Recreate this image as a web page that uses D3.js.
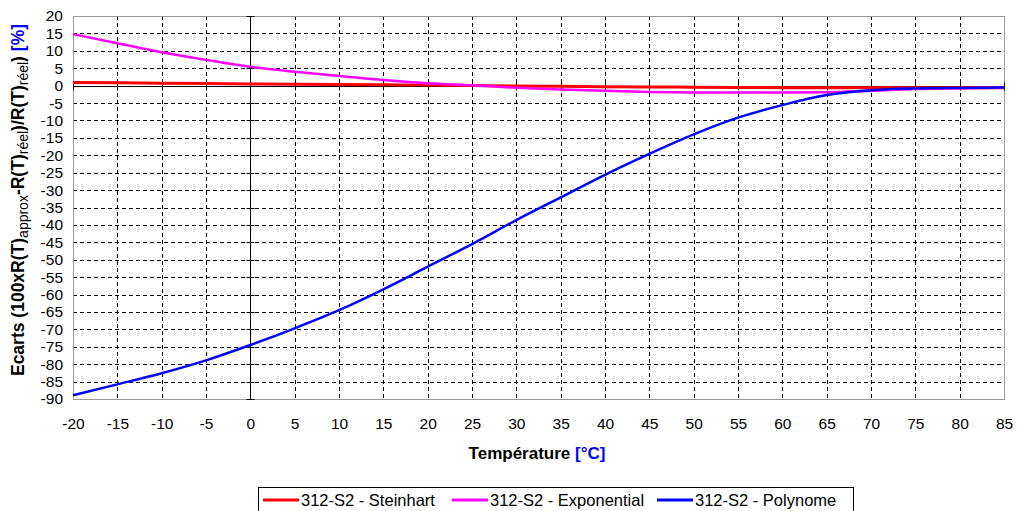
<!DOCTYPE html>
<html>
<head>
<meta charset="utf-8">
<script src="https://cdn.jsdelivr.net/npm/d3@7"></script>
<style>
  html, body { margin: 0; padding: 0; background: #fff; }
  svg { display: block; font-family: "Liberation Sans", Arial, sans-serif; }
</style>
</head>
<body>
<svg id="chart" width="1017" height="511"></svg>
<script>
// Temperatures (°C) at which the deviations are evaluated
const temperatures = [-20, -15, -10, -5, 0, 5, 10, 15, 20, 25, 30, 35, 40, 45, 50, 55, 60, 65, 70, 75, 80, 85];

// Relative deviation (%) of each approximation model
const steinhart   = [0.9, 0.8, 0.7, 0.6, 0.5, 0.4, 0.3, 0.22, 0.15, 0.05, -0.1, -0.2, -0.3, -0.38, -0.45, -0.52, -0.58, -0.6, -0.6, -0.6, -0.6, -0.6];
const exponential = [14.8, 12.2, 9.6, 7.4, 5.4, 4.0, 2.8, 1.6, 0.7, 0.1, -0.6, -1.1, -1.5, -1.8, -1.95, -2.0, -2.0, -1.9, -1.45, -1.0, -0.75, -0.6];
const polynome    = [-88.9, -85.8, -82.6, -78.9, -74.5, -69.7, -64.5, -58.5, -52.0, -45.5, -38.6, -32.1, -25.6, -19.6, -14.0, -9.2, -5.6, -2.7, -1.3, -0.8, -0.65, -0.55];

const seriesNames  = ["312-S2 - Steinhart", "312-S2 - Exponential", "312-S2 - Polynome"];
const seriesColors = ["#ff0000", "#ff00ff", "#0000ff"];

const xTicks = d3.range(-20, 86, 5);
const yTicks = d3.range(-90, 21, 5);

const svg = d3.select("#chart");
const plot = { left: 73, right: 1004, top: 16, bottom: 399 };

const x = d3.scaleLinear().domain([-20, 85]).range([plot.left, plot.right]);
const y = d3.scaleLinear().domain([-90, 20]).range([plot.bottom, plot.top]);
const px = v => Math.round(v) + 0.5;

// Dashed grid
const grid = svg.append("g");
grid.selectAll("line.gx").data(xTicks.filter(t => t !== -20 && t !== 85 && t !== 0)).join("line")
  .attr("x1", d => px(x(d))).attr("x2", d => px(x(d)))
  .attr("y1", plot.top).attr("y2", plot.bottom)
  .attr("stroke", "#000").attr("stroke-width", 1).attr("stroke-dasharray", "4,3");
grid.selectAll("line.gy").data(yTicks.filter(t => t !== -90 && t !== 20 && t !== 0)).join("line")
  .attr("y1", d => px(y(d))).attr("y2", d => px(y(d)))
  .attr("x1", plot.left).attr("x2", plot.right)
  .attr("stroke", "#000").attr("stroke-width", 1).attr("stroke-dasharray", "4,3");

// Plot frame
svg.append("rect")
  .attr("x", plot.left + 0.5).attr("y", plot.top + 0.5)
  .attr("width", plot.right - plot.left).attr("height", plot.bottom - plot.top)
  .attr("fill", "none").attr("stroke", "#999");

// Axes crossing at zero, with short tick marks across them
const zx = px(x(0)), zy = px(y(0));
const zeroAxes = svg.append("g").attr("stroke", "#000").attr("stroke-width", 1);
zeroAxes.append("line").attr("x1", zx).attr("x2", zx).attr("y1", plot.top).attr("y2", plot.bottom);
zeroAxes.append("line").attr("x1", plot.left).attr("x2", plot.right).attr("y1", zy).attr("y2", zy);
zeroAxes.selectAll("line.ty").data(yTicks).join("line")
  .attr("x1", zx - 4).attr("x2", zx + 4).attr("y1", d => px(y(d))).attr("y2", d => px(y(d)));
zeroAxes.selectAll("line.tx").data(xTicks).join("line")
  .attr("y1", zy - 4).attr("y2", zy + 4).attr("x1", d => px(x(d))).attr("x2", d => px(x(d)));

// Tick labels
const fmt = d => String(d);
const yAxis = d3.axisLeft(y).tickValues(yTicks).tickSize(0).tickPadding(10).tickFormat(fmt);
svg.append("g").attr("transform", `translate(${plot.left},0)`).call(yAxis)
  .call(g => g.select(".domain").remove())
  .call(g => g.selectAll("text").attr("font-size", 15.5).attr("fill", "#000").attr("font-family", "Liberation Sans, Arial, sans-serif"));
const xAxis = d3.axisBottom(x).tickValues(xTicks).tickSize(0).tickPadding(19).tickFormat(fmt);
svg.append("g").attr("transform", `translate(0,${plot.bottom})`).call(xAxis)
  .call(g => g.select(".domain").remove())
  .call(g => g.selectAll("text").attr("font-size", 15.5).attr("fill", "#000").attr("font-family", "Liberation Sans, Arial, sans-serif"));

// Curves
const allSeries = [steinhart, exponential, polynome];
const line = d3.line().x((d, i) => x(temperatures[i])).y(d => y(d)).curve(d3.curveMonotoneX);
svg.append("g").selectAll("path").data(allSeries).join("path")
  .attr("d", d => line(d))
  .attr("fill", "none")
  .attr("stroke", (d, i) => seriesColors[i])
  .attr("stroke-width", (d, i) => i === 0 ? 3 : 2.5)
  .attr("stroke-linejoin", "round");

// Axis titles
const xt = svg.append("text").attr("x", 537).attr("y", 459).attr("text-anchor", "middle")
  .attr("font-size", 17).attr("font-weight", "bold");
xt.append("tspan").text("Température ");
xt.append("tspan").attr("fill", "#0000ff").text("[°C]");

const yt = svg.append("text").attr("transform", "translate(24,200) rotate(-90)")
  .attr("text-anchor", "middle").attr("font-size", 17.5).attr("font-weight", "bold");
yt.append("tspan").text("Ecarts (100xR(T)");
yt.append("tspan").attr("font-size", 14).attr("font-weight", "normal").attr("dy", 4).text("approx");
yt.append("tspan").attr("dy", -4).text("-R(T)");
yt.append("tspan").attr("font-size", 14).attr("font-weight", "normal").attr("dy", 4).text("réel");
yt.append("tspan").attr("dy", -4).text(")/R(T)");
yt.append("tspan").attr("font-size", 14).attr("font-weight", "normal").attr("dy", 4).text("réel");
yt.append("tspan").attr("dy", -4).text(")");
yt.append("tspan").attr("fill", "#0000ff").text(" [%]");

// Legend
const legend = svg.append("g");
legend.append("rect").attr("x", 258.5).attr("y", 487.5).attr("width", 595).attr("height", 30)
  .attr("fill", "#fff").attr("stroke", "#000");
const legendX = [263, 452, 657];
seriesNames.forEach((name, i) => {
  legend.append("line").attr("x1", legendX[i]).attr("x2", legendX[i] + 36)
    .attr("y1", 500).attr("y2", 500).attr("stroke", seriesColors[i]).attr("stroke-width", 3);
  legend.append("text").attr("x", legendX[i] + 38).attr("y", 506)
    .attr("font-size", 16.5).text(name);
});
</script>
</body>
</html>
